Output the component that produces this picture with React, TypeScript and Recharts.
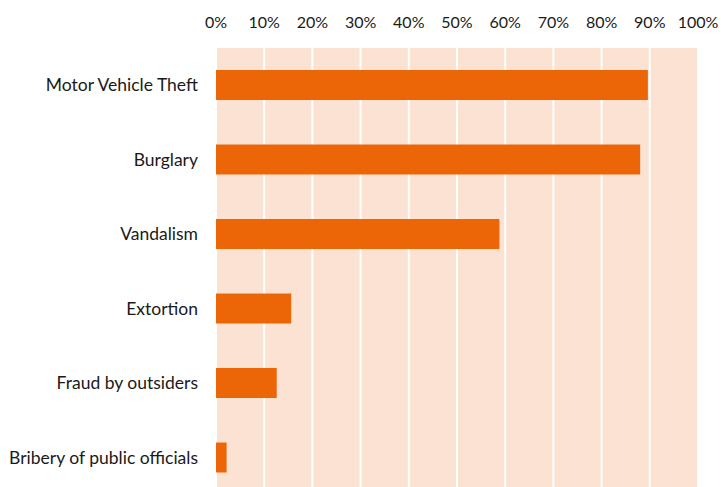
import { Bar, BarChart, CartesianGrid, XAxis, YAxis } from 'recharts'

const categories = [
  'Motor Vehicle Theft',
  'Burglary',
  'Vandalism',
  'Extortion',
  'Fraud by outsiders',
  'Bribery of public officials',
]
const shares = [0.896, 0.88, 0.588, 0.156, 0.126, 0.022]
const tickValues = [0, 0.1, 0.2, 0.3, 0.4, 0.5, 0.6, 0.7, 0.8, 0.9, 1]

const data = categories.map((name, i) => ({ name, value: shares[i] }))

const FONT = 'Lato, "Open Sans", sans-serif'
const xTickStyle = { fill: '#1a1a1a', fontSize: 16, fontFamily: FONT }
const yTickStyle = { fill: '#1a1a1a', fontSize: 17.5, fontFamily: FONT }

export default function App() {
  return (
    <div style={{ position: 'absolute', top: 0, left: 0, width: 721, height: 487, overflow: 'hidden', background: '#fff' }}>
      <BarChart
        width={721}
        height={500}
        data={data}
        layout="vertical"
        margin={{ top: 0, right: 23, bottom: 5, left: 0 }}
        barSize={30}
      >
        <CartesianGrid horizontal={false} fill="#FCE2D2" stroke="#ffffff" strokeWidth={2} />
        <XAxis
          type="number"
          orientation="top"
          domain={[0, 1]}
          ticks={tickValues}
          tickFormatter={(v) => `${Math.round(v * 100)}%`}
          axisLine={false}
          tickLine={false}
          tickSize={0}
          tickMargin={20}
          height={48}
          tick={xTickStyle}
          interval={0}
        />
        <YAxis
          type="category"
          dataKey="name"
          width={216}
          axisLine={false}
          tickLine={false}
          tickSize={0}
          tickMargin={18}
          tick={yTickStyle}
          interval={0}
        />
        <Bar dataKey="value" fill="#EC6608" isAnimationActive={false} />
      </BarChart>
    </div>
  )
}
